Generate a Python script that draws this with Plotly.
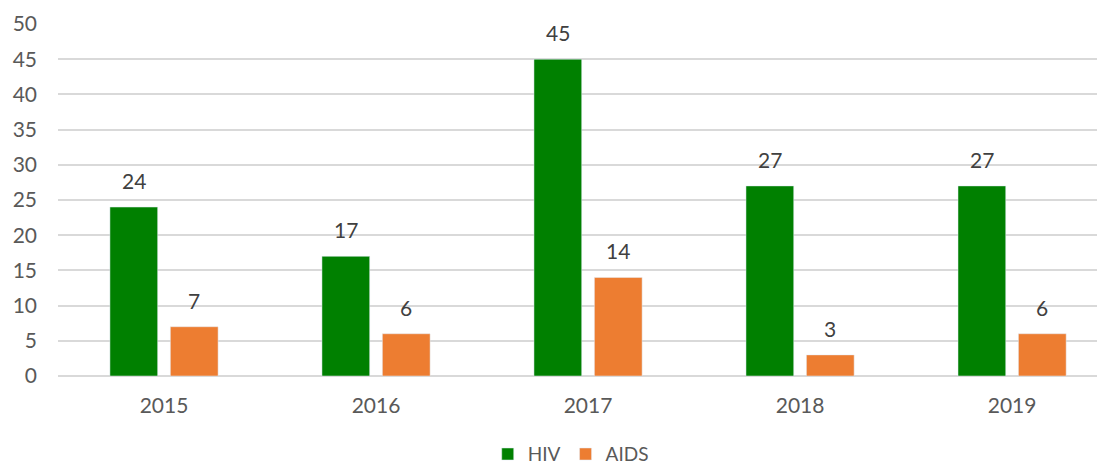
import plotly.graph_objects as go

years = ["2015", "2016", "2017", "2018", "2019"]
hiv = [24, 17, 45, 27, 27]
aids = [7, 6, 14, 3, 6]
y_ticks = [0, 5, 10, 15, 20, 25, 30, 35, 40, 45, 50]

FONT = "Lato, Open Sans, sans-serif"
GREEN = "#008000"
ORANGE = "#ED7D31"

fig = go.Figure()

fig.add_trace(
    go.Bar(
        x=years,
        y=hiv,
        name="HIV",
        marker_color=GREEN
    )
)

fig.add_trace(
    go.Bar(
        x=years,
        y=aids,
        name="AIDS",
        marker_color=ORANGE
    )
)

# data labels sit well above each bar, like the spreadsheet original
# (category index is used for x, "2015" strings get read as numbers)
annotations = []
for series, shift in [(hiv, -30), (aids, 30)]:
    for idx, value in enumerate(series):
        annotations.append(dict(
            x=idx,
            y=value,
            text=str(value),
            showarrow=False,
            xshift=shift,
            yshift=12,
            yanchor="bottom",
            font=dict(family=FONT, size=21, color="#404040")
        ))

# page body adds an 8px offset, so margins are trimmed by that much
fig.update_layout(
    width=1105,
    height=467,
    margin=dict(l=50, r=0, t=16, b=99, autoexpand=False),
    plot_bgcolor="white",
    paper_bgcolor="white",
    barmode="group",
    bargap=0.43,
    bargroupgap=0.21,
    font=dict(family=FONT, size=21, color="#595959"),
    annotations=annotations,
    showlegend=True,
    legend=dict(
        orientation="h",
        x=0.486,
        xanchor="center",
        y=-0.222,
        yanchor="middle",
        font=dict(family=FONT, size=19, color="#595959"),
        itemwidth=30
    )
)

fig.update_xaxes(
    type="category",
    range=[-0.5, 4.476],
    showgrid=False,
    showline=False,
    ticks="",
    ticklabelstandoff=15
)

fig.update_yaxes(
    range=[0, 50],
    tickvals=y_ticks,
    showgrid=True,
    gridcolor="#d9d9d9",
    gridwidth=1.5,
    zeroline=True,
    zerolinecolor="#d9d9d9",
    zerolinewidth=1.5,
    showline=False,
    ticks="",
    ticklabelstandoff=20
)

fig.write_html("out.html")
